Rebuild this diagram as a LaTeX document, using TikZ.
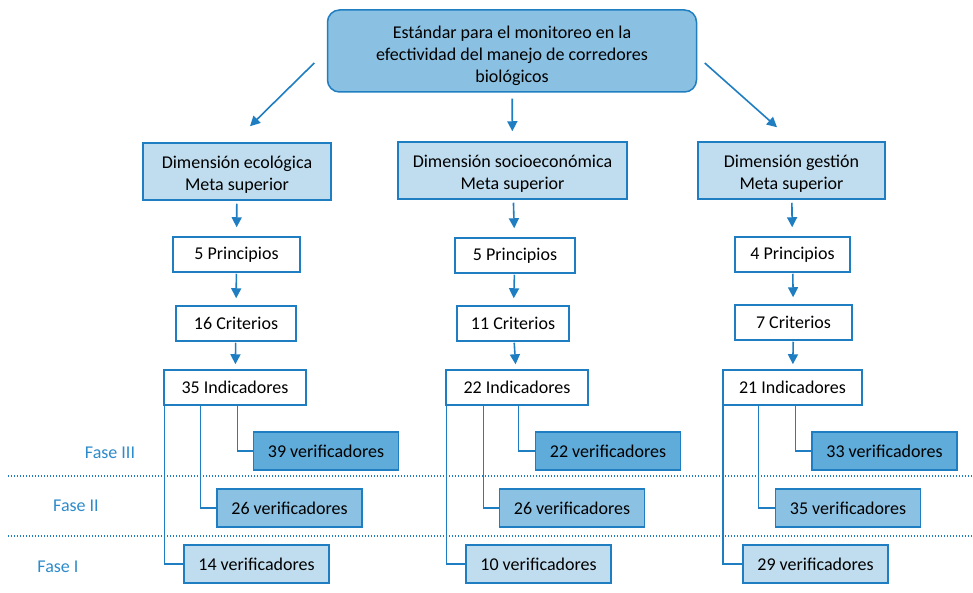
\documentclass[tikz,border=0pt]{standalone}
\usepackage{fontspec}
\setmainfont{Carlito}
\usetikzlibrary{arrows.meta}

\definecolor{lineblue}{HTML}{1F7EC1}
\definecolor{fasetext}{HTML}{2D8BCB}
\definecolor{boxtop}{HTML}{8AC0E2}
\definecolor{fasei}{HTML}{C0DDEF}
\definecolor{faseii}{HTML}{8BC1E3}
\definecolor{faseiii}{HTML}{5FABD9}

\begin{document}
\begin{tikzpicture}[x=1pt,y=-1pt,font=\fontsize{18}{22}\selectfont]

        \useasboundingbox (0,0) rectangle (973,593);

        \begin{scope}[every node/.style={draw=lineblue, line width=1.5pt, inner sep=0pt, align=center}]
          \node[fill=boxtop, rounded corners=12pt, minimum width=369pt, minimum height=82pt] (top) at (512,51)
            {\rule{0pt}{22pt}Estándar para el monitoreo en la\\efectividad del manejo de corredores\\biológicos};

          \node[fill=fasei, minimum width=188pt, minimum height=57pt] (dim1) at (237,171.5) {\rule{0pt}{19.5pt}Dimensión ecológica\\Meta superior};
          \node[fill=fasei, minimum width=229pt, minimum height=57pt] (dim2) at (512.5,170.5) {\rule{0pt}{19.5pt}Dimensión socioeconómica\\Meta superior};
          \node[fill=fasei, minimum width=187pt, minimum height=57pt] (dim3) at (791.5,170.5) {\rule{0pt}{19.5pt}Dimensión gestión\\Meta superior};

          \node[fill=white, minimum width=127pt, minimum height=35pt] (p1) at (236.5,254.5) {5 Principios};
          \node[fill=white, minimum width=120pt, minimum height=35pt] (p2) at (515,255.5) {5 Principios};
          \node[fill=white, minimum width=115pt, minimum height=35pt] (p3) at (792.5,254.5) {4 Principios};

          \node[fill=white, minimum width=120pt, minimum height=35pt] (c1) at (236,323.5) {16 Criterios};
          \node[fill=white, minimum width=112pt, minimum height=35pt] (c2) at (513,323.5) {11 Criterios};
          \node[fill=white, minimum width=117pt, minimum height=35pt] (c3) at (793.5,322.5) {7 Criterios};

          \node[fill=white, minimum width=142pt, minimum height=35pt] (i1) at (235,387.5) {35 Indicadores};
          \node[fill=white, minimum width=142pt, minimum height=35pt] (i2) at (517,387.5) {22 Indicadores};
          \node[fill=white, minimum width=139pt, minimum height=35pt] (i3) at (792.5,387.5) {21 Indicadores};
        \end{scope}

        \begin{scope}[every node/.style={draw=lineblue, line width=1.5pt, inner sep=0pt, minimum width=145pt, minimum height=38pt}]
          \node[fill=faseiii] (v13) at (326,451) {39 verificadores};
          \node[fill=faseiii] (v23) at (608,451) {22 verificadores};
          \node[fill=faseiii] (v33) at (884.5,451) {33 verificadores};

          \node[fill=faseii] (v12) at (289.5,508) {26 verificadores};
          \node[fill=faseii] (v22) at (572,508) {26 verificadores};
          \node[fill=faseii] (v32) at (848,508) {35 verificadores};

          \node[fill=fasei] (v11) at (256.5,564) {14 verificadores};
          \node[fill=fasei] (v21) at (538.5,564) {10 verificadores};
          \node[fill=fasei] (v31) at (815.5,564) {29 verificadores};
        \end{scope}

        % fases
        \begin{scope}[every node/.style={text=fasetext}]
          \node (f3) at (110,453) {Fase III};
          \node (f2) at (76,506) {Fase II};
          \node (f1) at (58,567) {Fase I};
        \end{scope}
        \draw[lineblue, line width=1.2pt, dash pattern=on 1.2pt off 1.8pt] (8,476) -- (973,476);
        \draw[lineblue, line width=1.2pt, dash pattern=on 1.2pt off 1.8pt] (8,536) -- (973,536);

        % arrows
        \begin{scope}[every edge/.style={draw=lineblue, line width=1.6pt, -{Triangle[width=10pt,length=10pt]}}]
          \path ([xshift=-12.5pt,yshift=-12pt]top.west) edge ([xshift=13pt,yshift=16pt]dim1.north);
          \path ([xshift=7.5pt,yshift=-12pt]top.east) edge ([xshift=-14.5pt,yshift=14pt]dim3.north);
          \path (top) edge[shorten <=6pt, shorten >=10pt] (dim2);

          \path (dim1) edge[shorten <=3pt, shorten >=9pt] (p1);
          \path (dim2) edge[shorten <=3pt, shorten >=9pt] (p2);
          \path (dim3) edge[shorten <=3pt, shorten >=9pt] (p3);

          \path (p1) edge[shorten <=1pt, shorten >=7pt] (c1);
          \path (p2) edge[shorten <=1pt, shorten >=7pt] (c2);
          \path (p3) edge[shorten <=1pt, shorten >=7pt] (c3);

          \path (c1) edge[shorten <=1pt, shorten >=5pt] (i1);
          \path (c2) edge[shorten <=1pt, shorten >=5pt] (i2);
          \path (c3) edge[shorten <=1pt, shorten >=5pt] (i3);
        \end{scope}

        % indicadores -> verificadores
        \begin{scope}[lineblue, line width=1.5pt]
          \draw ([xshift=1pt]i1.south west) |- (v11.west);
          \draw ([xshift=37pt]i1.south west) |- (v12.west);
          \draw ([xshift=74pt]i1.south west) |- (v13.west);
          \draw ([xshift=1pt]i2.south west) |- (v21.west);
          \draw ([xshift=38pt]i2.south west) |- (v22.west);
          \draw ([xshift=73pt]i2.south west) |- (v23.west);
          \draw ([xshift=0.5pt]i3.south west) |- (v31.west);
          \draw ([xshift=36pt]i3.south west) |- (v32.west);
          \draw ([xshift=73pt]i3.south west) |- (v33.west);
        \end{scope}

      \end{tikzpicture}
\end{document}
